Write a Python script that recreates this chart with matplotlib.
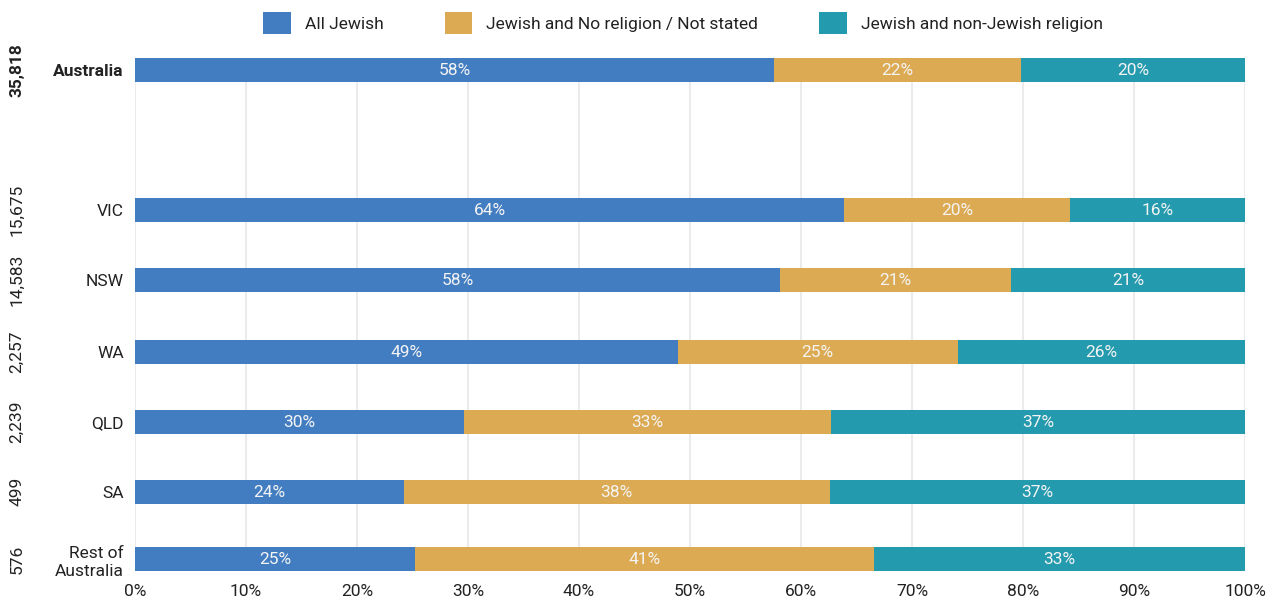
import matplotlib
matplotlib.use("Agg")
import matplotlib.pyplot as plt
from matplotlib.patches import Patch
from matplotlib.transforms import blended_transform_factory

plt.rcParams['font.family'] = ['Roboto', 'DejaVu Sans']

# data
regions = ["Australia", "VIC", "NSW", "WA", "QLD", "SA", "Rest of\nAustralia"]
counts = ["35,818", "15,675", "14,583", "2,257", "2,239", "499", "576"]
all_jewish = [57.6, 63.9, 58.1, 48.9, 29.6, 24.2, 25.2]
no_religion = [22.2, 20.3, 20.8, 25.2, 33.1, 38.4, 41.4]
non_jewish = [20.2, 15.8, 21.1, 25.9, 37.3, 37.4, 33.4]
series_names = ["All Jewish", "Jewish and No religion / Not stated", "Jewish and non-Jewish religion"]
colors = ["#427dc1", "#dcaa52", "#239aad"]

ypos = [0, 2, 3, 4.03, 5.03, 6.03, 6.99]
bar_h = 24 / 70

fig = plt.figure(figsize=(12.72, 6.03), dpi=100)
ax = fig.add_axes([135 / 1272, 1 - 571 / 603, 1110 / 1272, 513 / 603])

left = [0] * len(regions)
for vals, col in zip([all_jewish, no_religion, non_jewish], colors):
    bars = ax.barh(ypos, vals, left=left, height=bar_h, color=col, zorder=3)
    for b, v in zip(bars, vals):
        ax.text(b.get_x() + b.get_width() / 2, b.get_y() + b.get_height() / 2 + 0.01,
                "%d%%" % round(v), ha="center", va="center", color="#f4f4f4",
                fontsize=12.5, zorder=4)
    left = [l + v for l, v in zip(left, vals)]

ax.set_xlim(0, 100)
ax.set_ylim(6.99 + 12 / 70, -12 / 70)
ax.set_xticks(range(0, 101, 10))
ax.set_xticklabels(["%d%%" % t for t in range(0, 101, 10)], fontsize=12.5, color="#222222")
ax.set_yticks(ypos)
ax.set_yticklabels(regions, fontsize=12.5, color="#222222", linespacing=1.3)
ax.get_yticklabels()[0].set_fontweight("bold")
ax.tick_params(axis="both", length=0)
ax.tick_params(axis="x", pad=9)
ax.tick_params(axis="y", pad=8)
ax.grid(axis="x", color="#ebebeb", linewidth=1.5, zorder=0)
for s in ax.spines.values():
    s.set_visible(False)

# rotated counts at the far left
tr = blended_transform_factory(fig.transFigure, ax.transData)
for i, (y, c) in enumerate(zip(ypos, counts)):
    ax.text(17 / 1272, y, c, transform=tr, rotation=90, ha="center", va="center",
            fontsize=12.5, color="#222222", fontweight="bold" if i == 0 else "normal")

handles = [Patch(facecolor=c, label=n) for c, n in zip(colors, series_names)]
fig.legend(handles=handles, loc="center", bbox_to_anchor=(683 / 1272, 1 - 23 / 603),
           ncol=3, frameon=False, fontsize=12.5, handlelength=1.6, handleheight=1.55,
           handletextpad=0.8, columnspacing=3.5, borderaxespad=0, labelcolor="#222222")

fig.savefig("out.png", dpi=100)
